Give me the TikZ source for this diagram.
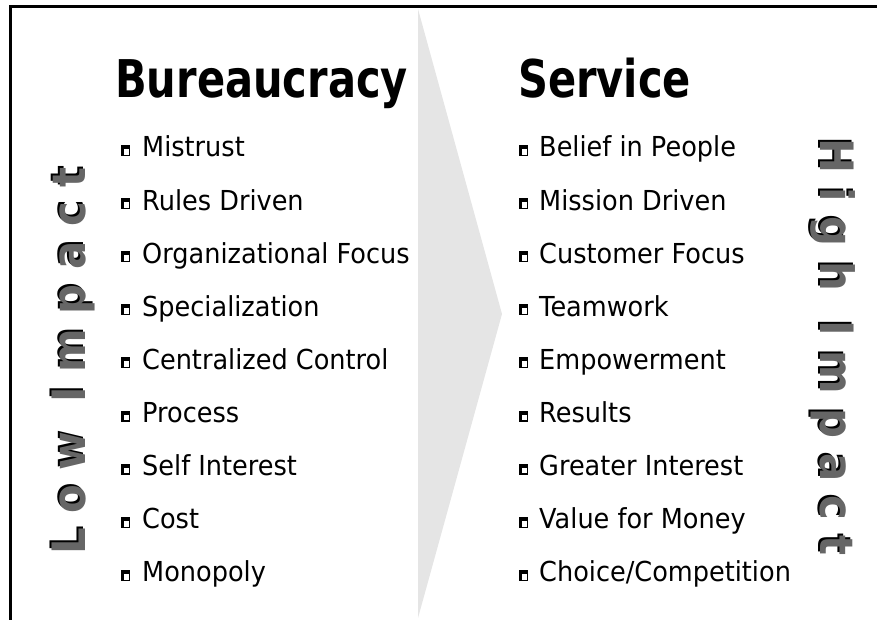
\documentclass[tikz,border=0pt]{standalone}
\usepackage{fontspec}
\setmainfont{DejaVu Sans}[FakeStretch=0.93]
\newfontfamily\headfont{DejaVu Sans}[FakeStretch=0.80]
\newfontfamily\sidefont{DejaVu Sans}[FakeStretch=0.91]
\usepackage{tikz}

\tikzset{
  heading/.style={font=\headfont\bfseries\fontsize{52}{52}\selectfont, anchor=base west, inner sep=0pt},
  itemtext/.style={font=\fontsize{27.5}{27.5}\selectfont, anchor=base west, inner sep=0pt},
  sidetext/.style={font=\sidefont\bfseries\fontsize{46}{46}\selectfont, anchor=base west, inner sep=0pt},
  itemmark/.pic={
    \fill (0,0) rectangle (9,-11);
    \fill[white] (2.8,-1.2) rectangle (7.8,-7);
  }
}

\begin{document}
\begin{tikzpicture}[x=1pt, y=-1pt]
  \useasboundingbox (0,0) rectangle (877,620);
  \fill[black!10] (418,9) -- (502,314) -- (418,618) -- cycle;
  \draw[line width=3pt] (10.5,620) -- (10.5,6.5) -- (877,6.5);

  \node[heading] (bureau) at (115,98) {Bureaucracy};
  \node[heading] (service) at (518,98) {Service};

  \foreach \txt [count=\i] in {Mistrust, Rules Driven, Organizational Focus,
      Specialization, Centralized Control, Process, Self Interest, Cost, Monopoly} {
    \pic at (121, {156+53.1*(\i-1)}) {itemmark};
    \node[itemtext] (old\i) at (142, {157+53.1*(\i-1)}) {\txt};
  }
  \foreach \txt [count=\i] in {Belief in People, Mission Driven, Customer Focus,
      Teamwork, Empowerment, Results, Greater Interest, Value for Money, Choice/Competition} {
    \pic at (519, {156+53.1*(\i-1)}) {itemmark};
    \node[itemtext] (new\i) at (539, {157+53.1*(\i-1)}) {\txt};
  }

  % side labels, black copy under the grey one
  \node[sidetext, rotate=90] (lowshadow) at (83,553) {L o w~~I m p a c t};
  \node[sidetext, rotate=90, text=black!60] (low) at (85,555) {L o w~~I m p a c t};
  \node[sidetext, rotate=-90] (highshadow) at (818,136) {H i g h~~I m p a c t};
  \node[sidetext, rotate=-90, text=black!60] (high) at (820,138) {H i g h~~I m p a c t};
\end{tikzpicture}
\end{document}
